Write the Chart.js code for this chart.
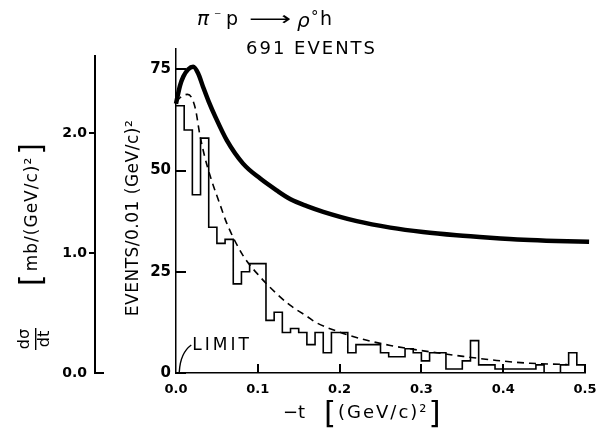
<!DOCTYPE html>
<html>
<head>
<meta charset="utf-8">
<script src="https://cdn.jsdelivr.net/npm/chart.js@4.4.0/dist/chart.umd.min.js"></script>
<style>
html,body{margin:0;padding:0;background:#fff;}
#wrap{width:608px;height:443px;}
</style>
</head>
<body>
<div id="wrap"><canvas id="chart" width="608" height="443"></canvas></div>
<script>
// histogram: events per 0.01 (GeV/c)^2, bins from -t = 0 to 0.5
const binWidth = 0.01;
const binCounts = [66,60,44,58,36,32,33,22,25,27, 27,13,15,10,11,10,7,10,5,10,
                   10,5,7,7,7,5,4,4,6,5, 3,5,5,1,1,3,8,2,2,1,
                   1,1,1,1,2,0,0,2,5,2];

// dashed fit curve
const dashT = [0,0.007,0.014,0.019,0.024,0.029,0.035,0.042,0.054,0.062,0.082,0.103,0.123,0.139,0.16,0.17,0.2,0.231,0.262,0.298,0.319,0.351,0.392,0.433,0.478];
const dashV = [67,68.3,68.8,68,65,59,53.5,48.5,41.5,37,29,23.7,19.6,16.8,14,12.6,10.1,8.2,6.8,5.6,5,4.1,3.1,2.4,2.1];

// thick curve (d sigma / dt)
const solidT = [0,0.005,0.009,0.015,0.021,0.027,0.033,0.04,0.048,0.062,0.082,0.103,0.123,0.14,0.16,0.18,0.221,0.262,0.302,0.343,0.384,0.425,0.465,0.505];
const solidV = [66.5,71,73.2,75,75.6,74,70.7,67,63.3,57.5,51.7,48,45.1,42.9,41.2,39.8,37.5,35.9,34.8,34,33.4,32.9,32.6,32.4];

const eventTicks = [0,25,50,75];
const tTicks = [0.1,0.2,0.3,0.4,0.5];
const sigmaTicks = [0,1,2];
const sigmaTop = 2.65;
const limitT = 0.004;

const title2 = "691 EVENTS";

Chart.defaults.font.family = "'DejaVu Sans', sans-serif";
Chart.defaults.color = "#000";

const histData = binCounts.map((c,i)=>({x:i*binWidth, y:c}));
histData.push({x:binCounts.length*binWidth, y:0});

const textPlugin = {
  id: "textPlugin",
  afterDraw(chart){
    const ctx = chart.ctx;
    const xs = chart.scales.x, ys = chart.scales.y, ss = chart.scales.y2;
    ctx.save();
    ctx.fillStyle = "#000";
    ctx.strokeStyle = "#000";

    // inward tick marks
    const y0 = ys.getPixelForValue(0);
    const x0 = xs.getPixelForValue(0);
    tTicks.forEach(v => {
      const px = Math.round(xs.getPixelForValue(v));
      ctx.fillRect(px - 1, y0 - 9, 2, 9);
    });
    eventTicks.forEach(v => {
      const py = Math.round(ys.getPixelForValue(v));
      ctx.fillRect(x0, py - 1, 10, 2);
    });
    // d sigma/dt axis line and ticks
    const sx = Math.round(ss.right);
    const sTop = ss.getPixelForValue(sigmaTop);
    const sBot = ss.getPixelForValue(0);
    ctx.fillRect(sx - 1, sTop, 2, sBot - sTop + 1);
    sigmaTicks.forEach(v => {
      const py = Math.round(ss.getPixelForValue(v));
      if (v === 0) ctx.fillRect(sx, py - 1, 9, 2);
      else ctx.fillRect(sx - 6, py - 1, 6, 2);
    });

    // title
    ctx.textAlign = "left";
    ctx.textBaseline = "alphabetic";
    ctx.font = "italic 20px 'DejaVu Sans'";
    ctx.fillText("π", 197, 25);
    ctx.font = "14px 'DejaVu Sans'";
    ctx.fillText("⁻", 214, 21);
    ctx.font = "19px 'DejaVu Sans'";
    ctx.fillText("p", 226, 25);
    ctx.save();
    ctx.translate(249, 25);
    ctx.scale(1.55, 1);
    ctx.fillText("⟶", 0, 0);
    ctx.restore();
    ctx.font = "italic 20px 'DejaVu Sans'";
    ctx.fillText("ρ", 297, 27);
    ctx.font = "15px 'DejaVu Sans'";
    ctx.fillText("°", 311, 22);
    ctx.font = "19px 'DejaVu Sans'";
    ctx.fillText("h", 320, 25);
    ctx.font = "18px 'DejaVu Sans'";
    ctx.letterSpacing = "2px";
    ctx.fillText(title2, 246, 54);

    // events axis title
    ctx.save();
    ctx.translate(134, 218);
    ctx.rotate(-Math.PI/2);
    ctx.textAlign = "center";
    ctx.textBaseline = "middle";
    ctx.font = "17px 'DejaVu Sans'";
    ctx.letterSpacing = "0.5px";
    ctx.fillText("EVENTS/0.01 (GeV/c)²", 0, 0);
    ctx.restore();

    // d sigma / dt axis title
    ctx.save();
    ctx.translate(33, 214);
    ctx.rotate(-Math.PI/2);
    ctx.textBaseline = "middle";
    ctx.letterSpacing = "1px";
    ctx.font = "17px 'DejaVu Sans'";
    const mid = "mb/(GeV/c)²";
    const w = ctx.measureText(mid).width;
    ctx.textAlign = "center";
    ctx.fillText(mid, 0, 0);
    ctx.font = "30px 'DejaVu Sans'";
    ctx.textAlign = "right";
    ctx.fillText("[", -w/2 - 2, 0);
    ctx.textAlign = "left";
    ctx.fillText("]", w/2 + 2, 0);
    ctx.restore();

    ctx.save();
    ctx.translate(34, 339);
    ctx.rotate(-Math.PI/2);
    ctx.textAlign = "center";
    ctx.textBaseline = "middle";
    ctx.font = "16px 'DejaVu Sans'";
    ctx.letterSpacing = "0px";
    ctx.fillText("dσ", 0, -9);
    ctx.fillText("dt", 0, 11);
    ctx.fillRect(-11, 1, 22, 1.4);
    ctx.restore();

    // x axis title
    ctx.textBaseline = "alphabetic";
    ctx.textAlign = "left";
    ctx.font = "18px 'DejaVu Sans'";
    ctx.letterSpacing = "0px";
    ctx.fillText("−t", 283, 418);
    ctx.letterSpacing = "2px";
    const xt = "(GeV/c)²";
    const xw = ctx.measureText(xt).width;
    ctx.fillText(xt, 338, 418);
    ctx.font = "31px 'DejaVu Sans'";
    ctx.letterSpacing = "0px";
    ctx.textAlign = "right";
    ctx.fillText("[", 336, 423);
    ctx.textAlign = "left";
    ctx.fillText("]", 338 + xw, 423);

    // LIMIT marker
    const lx = xs.getPixelForValue(limitT);
    const ly = ys.getPixelForValue(0);
    ctx.lineWidth = 1.4;
    ctx.beginPath();
    ctx.moveTo(lx + 12, ly - 28);
    ctx.quadraticCurveTo(lx + 1, ly - 20, lx, ly - 1);
    ctx.stroke();
    ctx.font = "17px 'DejaVu Sans'";
    ctx.letterSpacing = "3px";
    ctx.textAlign = "left";
    ctx.fillText("LIMIT", lx + 13, ly - 23);
    ctx.restore();
  }
};

new Chart(document.getElementById("chart"), {
  type: "line",
  data: {
    datasets: [
      {
        label: "histogram",
        data: histData,
        stepped: "before",
        borderColor: "#000",
        borderWidth: 1.6,
        pointRadius: 0,
        fill: false
      },
      {
        label: "fit",
        data: dashT.map((t,i)=>({x:t, y:dashV[i]})),
        borderColor: "#000",
        borderWidth: 1.6,
        borderDash: [7,5],
        cubicInterpolationMode: "monotone",
        pointRadius: 0,
        fill: false
      },
      {
        label: "dsigma/dt",
        data: solidT.map((t,i)=>({x:t, y:solidV[i]})),
        borderColor: "#000",
        borderWidth: 4.5,
        cubicInterpolationMode: "monotone",
        pointRadius: 0,
        fill: false,
        clip: false
      }
    ]
  },
  options: {
    responsive: false,
    animation: false,
    layout: {padding: {top: 49, right: 23, bottom: 0, left: 0}},
    plugins: {legend: {display: false}, tooltip: {enabled: false}},
    scales: {
      x: {
        type: "linear",
        min: 0,
        max: 0.5,
        border: {color: "#000", width: 1.5},
        grid: {drawOnChartArea: false, drawTicks: false},
        ticks: {stepSize: 0.1, padding: 9, maxRotation: 0, font: {size: 13, weight: "bold"},
                callback: v => v.toFixed(1)},
        afterFit: s => { s.height = 70; }
      },
      y: {
        position: "left",
        weight: 0,
        min: 0,
        max: 80,
        border: {color: "#000", width: 1.5},
        grid: {drawOnChartArea: false, drawTicks: false},
        ticks: {padding: 5, font: {size: 15, weight: "bold"}},
        afterBuildTicks: s => { s.ticks = eventTicks.map(v=>({value:v})); },
        afterFit: s => { s.width = 81; }
      },
      y2: {
        position: "left",
        weight: 1,
        min: 0,
        max: 2.7,
        border: {display: false},
        grid: {display: false, drawTicks: false},
        ticks: {padding: 8, font: {size: 14, weight: "bold"}, callback: v => v.toFixed(1)},
        afterBuildTicks: s => { s.ticks = sigmaTicks.map(v=>({value:v})); },
        afterFit: s => { s.width = 95; }
      }
    }
  },
  plugins: [textPlugin]
});
</script>
</body>
</html>
